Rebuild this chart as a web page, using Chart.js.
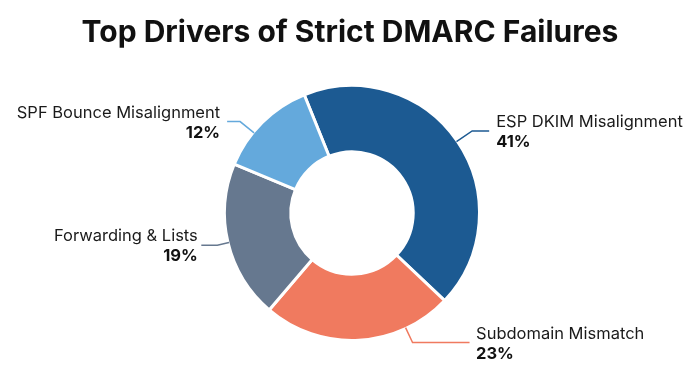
<!DOCTYPE html>
<html>
<head>
<meta charset="utf-8">
<script src="https://cdn.jsdelivr.net/npm/chart.js@4"></script>
<style>
  html, body { margin: 0; padding: 0; background: #ffffff; }
  #wrap { width: 700px; height: 382px; position: relative; }
</style>
</head>
<body>
<div id="wrap"><canvas id="c"></canvas></div>
<script>
// ---- data ----
const categories = ["ESP DKIM Misalignment", "Subdomain Mismatch", "Forwarding & Lists", "SPF Bounce Misalignment"];
const shares = [41, 23, 19, 12];
const shareLabels = ["41%", "23%", "19%", "12%"];
const chartTitle = "Top Drivers of Strict DMARC Failures";

// ---- styling / label layout (not data) ----
const sliceColors = ["#1c5a92", "#f07a5f", "#66788f", "#64a9dc"];
const labelAngleShift = [0, -22, 0, -6];      // degrees, leader anchor shift from slice middle
const labelRadial = [19, 16.5, 12, 18];        // px, radial leg of leader
const labelHoriz = [17, 57, 16, 13];           // px, horizontal leg of leader
const labelGap = [7, 6.5, 3.5, 7];             // px, gap between leader end and text

const FONT = "Inter, 'Noto Sans', 'DejaVu Sans', sans-serif";

const titlePlugin = {
  id: 'titleDraw',
  afterDraw(chart) {
    const ctx = chart.ctx;
    ctx.save();
    ctx.font = "bold 30px " + FONT;
    ctx.fillStyle = "#111111";
    ctx.textAlign = "center";
    ctx.textBaseline = "alphabetic";
    ctx.fillText(chartTitle, 350, 42);
    ctx.restore();
  }
};

const leaderPlugin = {
  id: 'leaderLabels',
  afterDatasetsDraw(chart) {
    const ctx = chart.ctx;
    const meta = chart.getDatasetMeta(0);
    meta.data.forEach((arc, i) => {
      const p = arc.getProps(['x', 'y', 'startAngle', 'endAngle', 'outerRadius'], true);
      const a = (p.startAngle + p.endAngle) / 2 + labelAngleShift[i] * Math.PI / 180;
      const r = p.outerRadius - 1;
      const ax = p.x + Math.cos(a) * r, ay = p.y + Math.sin(a) * r;
      const ex = ax + Math.cos(a) * labelRadial[i], ey = ay + Math.sin(a) * labelRadial[i];
      const side = Math.cos(a) >= 0 ? 1 : -1;
      const hx = ex + side * labelHoriz[i];
      ctx.save();
      ctx.strokeStyle = sliceColors[i];
      ctx.lineWidth = 1.5;
      ctx.beginPath();
      ctx.moveTo(ax, ay);
      ctx.lineTo(ex, ey);
      ctx.lineTo(hx, ey);
      ctx.stroke();
      const tx = hx + side * labelGap[i];
      ctx.textAlign = side > 0 ? 'left' : 'right';
      ctx.textBaseline = 'alphabetic';
      ctx.fillStyle = '#1a1a1a';
      ctx.font = "16.5px " + FONT;
      ctx.fillText(categories[i], tx, ey - 4);
      ctx.font = "bold 16.5px " + FONT;
      ctx.fillStyle = '#111111';
      ctx.fillText(shareLabels[i], tx, ey + 16);
      ctx.restore();
    });
  }
};

new Chart(document.getElementById('c'), {
  type: 'doughnut',
  data: {
    labels: categories,
    datasets: [{
      data: shares,
      backgroundColor: sliceColors,
      borderColor: '#ffffff',
      borderWidth: 3,
      hoverOffset: 0
    }]
  },
  options: {
    responsive: true,
    maintainAspectRatio: false,
    animation: false,
    rotation: -22,
    cutout: '48%',
    layout: { padding: { top: 84, bottom: 40, left: 4, right: 0 } },
    plugins: {
      legend: { display: false },
      title: { display: false },
      tooltip: { enabled: false }
    }
  },
  plugins: [leaderPlugin, titlePlugin]
});
</script>
</body>
</html>
